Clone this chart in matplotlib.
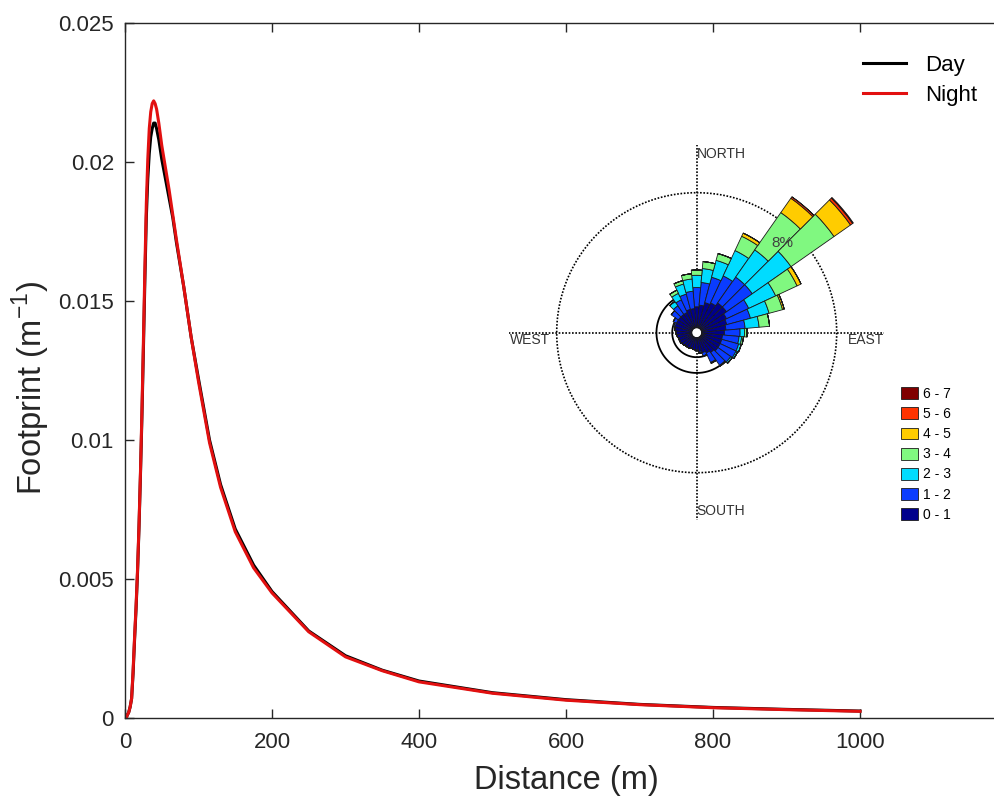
import numpy as np
import matplotlib
matplotlib.use("Agg")
import matplotlib.pyplot as plt
from matplotlib.patches import Patch

plt.rcParams['font.family'] = ['Liberation Sans', 'DejaVu Sans']
plt.rcParams['mathtext.fontset'] = 'custom'
plt.rcParams['mathtext.rm'] = 'Liberation Sans'

# footprint curves (distance in m, footprint in 1/m)
distance = [0, 2, 3, 5, 7, 9, 11, 13, 15, 17, 19, 21, 23, 25, 27, 29, 31, 33, 35,
            37, 39, 41, 43, 46, 50, 55, 60, 65, 70, 80, 90, 100, 115, 130, 150,
            175, 200, 250, 300, 350, 400, 500, 600, 700, 800, 900, 1000]
night = [0, 0.00002, 0.0001, 0.0002, 0.0004, 0.0007, 0.0017, 0.0029, 0.0040,
         0.0053, 0.0069, 0.0088, 0.0110, 0.0135, 0.0161, 0.0185, 0.0201, 0.0212,
         0.0218, 0.0221, 0.0222, 0.0221, 0.0219, 0.0214, 0.0206, 0.0198, 0.0190,
         0.0181, 0.0172, 0.0155, 0.0137, 0.0121, 0.0099, 0.0083, 0.0067, 0.0054,
         0.0045, 0.0031, 0.0022, 0.0017, 0.0013, 0.00089, 0.00064, 0.00048,
         0.00037, 0.00030, 0.00024]
day = [0, 0.00002, 0.0001, 0.0002, 0.0004, 0.0007, 0.0016, 0.0028, 0.0039,
       0.0052, 0.0068, 0.0087, 0.0108, 0.0132, 0.0157, 0.0180, 0.0194, 0.0203,
       0.0209, 0.0212, 0.0214, 0.0214, 0.0212, 0.0208, 0.0201, 0.0194, 0.0187,
       0.0180, 0.0171, 0.0155, 0.0137, 0.0122, 0.0100, 0.0084, 0.0068, 0.0055,
       0.00455, 0.00313, 0.00224, 0.00172, 0.00133, 0.00091, 0.00066, 0.00049,
       0.00038, 0.00031, 0.00025]

# wind rose: 36 sectors, frequency (%) for each speed class
directions = np.arange(0, 360, 10)
speed_classes = ['0 - 1', '1 - 2', '2 - 3', '3 - 4', '4 - 5', '5 - 6', '6 - 7']
class_colors = ['#00008c', '#0a3cff', '#00dcff', '#80f880', '#ffcc00', '#ff3300', '#800000']
freq_0_1 = [1.2, 1.3, 1.5, 1.6, 1.8, 1.8, 1.6, 1.5, 1.4, 1.3, 1.2, 1.2, 1.2, 1.2, 1.1, 1.0, 0.9, 0.8,
            0.7, 0.7, 0.65, 0.7, 0.7, 0.75, 0.8, 0.8, 0.85, 0.9, 0.95, 1.0, 1.0, 1.0, 1.0, 1.0, 1.1, 1.1]
freq_1_2 = [1.1, 1.3, 1.5, 1.7, 1.8, 1.8, 1.4, 1.4, 1.1, 0.9, 0.95, 1.0, 1.0, 0.9, 0.9, 0.6, 0.2, 0.1,
            0.05, 0, 0, 0, 0, 0, 0, 0, 0, 0, 0.05, 0.1, 0.2, 0.5, 0.6, 0.8, 0.9, 1.0]
freq_2_3 = [0.7, 0.8, 1.0, 1.6, 1.9, 2.7, 1.7, 1.1, 0.8, 0.25, 0.15, 0.15, 0.1, 0.1, 0.05, 0.05, 0, 0,
            0, 0, 0, 0, 0, 0, 0, 0, 0, 0, 0, 0, 0, 0, 0.3, 0.4, 0.6, 0.7]
freq_3_4 = [0.3, 0.4, 0.4, 0.9, 2.6, 3.0, 1.35, 0.8, 0.6, 0.15, 0.1, 0, 0, 0, 0, 0, 0, 0,
            0, 0, 0, 0, 0, 0, 0, 0, 0, 0, 0, 0, 0, 0, 0, 0.2, 0.2, 0.3]
freq_4_5 = [0, 0, 0, 0.2, 1.0, 1.15, 0.25, 0.1] + [0] * 28
freq_5_6 = [0, 0, 0, 0, 0.1, 0.15] + [0] * 30
freq_6_7 = [0, 0, 0, 0, 0, 0.05] + [0] * 30
rose_freqs = [freq_0_1, freq_1_2, freq_2_3, freq_3_4, freq_4_5, freq_5_6, freq_6_7]
ring_pcts = [1.4, 2.3]

fig = plt.figure(figsize=(9.95, 7.96), dpi=100)
ax = fig.add_axes([125 / 995, 78 / 796, 882 / 995, 695 / 796])

ax.plot(distance, day, color='k', lw=2.2, label='Day')
ax.plot(distance, night, color='#e21010', lw=2.2, label='Night')

ax.set_xlim(0, 1200)
ax.set_ylim(0, 0.025)
ax.set_xticks([0, 200, 400, 600, 800, 1000])
ax.set_yticks([0, 0.005, 0.01, 0.015, 0.02, 0.025])
ax.set_yticklabels(['0', '0.005', '0.01', '0.015', '0.02', '0.025'])
ax.tick_params(direction='in', length=6.5, width=1, top=True, right=True,
               labelsize=16, colors='#262626')
ax.tick_params(axis='x', pad=10)
ax.tick_params(axis='y', pad=8)
for s in ax.spines.values():
    s.set_color('#262626')
    s.set_linewidth(1)
ax.set_xlabel('Distance (m)', fontsize=23.5, color='#262626', labelpad=8.5)
ax.set_ylabel(r'Footprint (m$^{\mathregular{-1}}$)', fontsize=23.5, color='#262626')
ax.yaxis.set_label_coords(-0.083, 0.475)
ax.legend(loc='upper left', bbox_to_anchor=(863 / 995, 1 - 55 / 796), bbox_transform=fig.transFigure,
          frameon=False, fontsize=16, handlelength=1.95, handletextpad=0.85, labelspacing=0.4,
          borderpad=0, borderaxespad=0)

# wind rose inset
R = 210
cx, cy = 696.7, 332.7
ax2 = fig.add_axes([(cx - R) / 995, (796 - cy - R) / 796, 2 * R / 995, 2 * R / 796], projection='polar')
ax2.set_theta_zero_location('N')
ax2.set_theta_direction(-1)
ax2.set_ylim(0, 12)
ax2.axis('off')

hole = 0.28
th = np.deg2rad(directions)
full = np.linspace(0, 2 * np.pi, 361)
dots = (0, (1, 1))
ax2.plot(full, np.full(361, 8), color='k', lw=1.2, ls=dots, zorder=1)
for ang in [0, 90, 180, 270]:
    ax2.plot([np.deg2rad(ang)] * 2, [0, 10.7], color='k', lw=1.2, ls=dots, zorder=1)
for rp in ring_pcts:
    ax2.plot(full, np.full(361, rp), color='k', lw=1.3, zorder=1)
ax2.fill(full, np.full(361, hole), color='white', zorder=1.5)
bottom = np.full(len(directions), hole)
for freqs, col in zip(rose_freqs, class_colors):
    ax2.bar(th, freqs, width=np.deg2rad(10), bottom=bottom, color=col,
            edgecolor='#1a1a1a', linewidth=0.6, zorder=2)
    bottom = bottom + np.array(freqs)

ax2.text(np.deg2rad(43.7), 7.1, '8%', fontsize=11, color='#404040', ha='center', va='center', zorder=4)
ax2.text(0, 10.2, 'NORTH', fontsize=10, color='#333333', ha='left', va='center')
ax2.text(np.pi, 10.2, 'SOUTH', fontsize=10, color='#333333', ha='left', va='center')
ax2.text(np.deg2rad(270), 10.7, 'WEST', fontsize=10, color='#333333', ha='left', va='top')
ax2.text(np.deg2rad(90), 10.7, 'EAST', fontsize=10, color='#333333', ha='right', va='top')

handles = [Patch(facecolor=c, edgecolor='#1a1a1a', linewidth=0.6) for c in class_colors][::-1]
ax2.legend(handles, speed_classes[::-1], loc='upper left', bbox_to_anchor=(901 / 995, 1 - 387 / 796),
           bbox_transform=fig.transFigure, frameon=False, fontsize=10, handlelength=1.26,
           handleheight=0.94, labelspacing=0.44, handletextpad=0.3, borderpad=0, borderaxespad=0)

fig.savefig('out.png', dpi=100)
